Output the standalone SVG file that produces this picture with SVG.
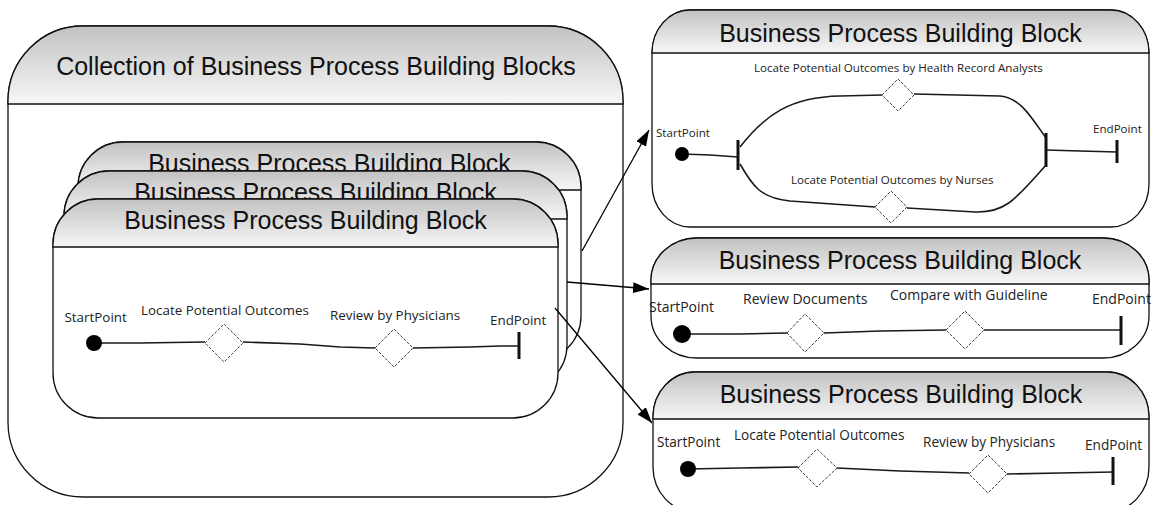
<svg xmlns="http://www.w3.org/2000/svg" width="1151" height="505" viewBox="0 0 1151 505">
<defs>
<linearGradient id="hg" x1="0" y1="0" x2="0" y2="1">
<stop offset="0" stop-color="#c2c2c2"/>
<stop offset="1" stop-color="#f7f7f7"/>
</linearGradient>
<marker id="ah" markerUnits="userSpaceOnUse" markerWidth="17" markerHeight="11" refX="16" refY="5.5" orient="auto">
<path d="M0,0 L16,5.5 L0,11 Z" fill="#000"/>
</marker>
<style>
.title{font-family:"Liberation Sans",Arial,sans-serif;font-size:25px;fill:#111;text-anchor:middle}
.lbl{font-family:"Open Sans","Noto Sans",sans-serif;fill:#222}
.box{fill:#fff;stroke:#111;stroke-width:1.3}
.hdr{fill:url(#hg);stroke:#111;stroke-width:1.3}
.flow{fill:none;stroke:#1a1a1a;stroke-width:1.6}
.bar{stroke:#111;stroke-width:3}
.dia{fill:#fff;stroke:#444;stroke-width:1;stroke-dasharray:3 1.5}
.dot{fill:#000}
.conn{fill:none;stroke:#000;stroke-width:1.3;marker-end:url(#ah)}
</style>
</defs>

<g id="collection">
<rect class="box" x="8" y="26" width="615" height="471" rx="75" ry="75"/>
<path class="hdr" d="M8,104 V101 A75,75 0 0 1 83,26 H548 A75,75 0 0 1 623,101 V104 Z"/>
<text class="title" x="316" y="75">Collection of Business Process Building Blocks</text>
</g>

<g id="bpbb-back">
<rect class="box" x="78" y="142" width="503" height="219" rx="45" ry="45"/>
<path class="hdr" d="M78,190 V187 A45,45 0 0 1 123,142 H536 A45,45 0 0 1 581,187 V190 Z"/>
<text class="title" x="329.5" y="172">Business Process Building Block</text>
</g>

<g id="bpbb-middle">
<rect class="box" x="64" y="171" width="503" height="219" rx="45" ry="45"/>
<path class="hdr" d="M64,219 V216 A45,45 0 0 1 109,171 H522 A45,45 0 0 1 567,216 V219 Z"/>
<text class="title" x="315.5" y="201">Business Process Building Block</text>
</g>

<g id="bpbb-front">
<rect class="box" x="53" y="199" width="505" height="219" rx="45" ry="45"/>
<path class="hdr" d="M53,247 V244 A45,45 0 0 1 98,199 H513 A45,45 0 0 1 558,244 V247 Z"/>
<text class="title" x="305.5" y="229">Business Process Building Block</text>
<text class="lbl" x="64.5" y="322" font-size="13.4">StartPoint</text>
<text class="lbl" x="141" y="315" font-size="13.4">Locate Potential Outcomes</text>
<text class="lbl" x="330" y="320" font-size="13.4">Review by Physicians</text>
<text class="lbl" x="490" y="325" font-size="13.4">EndPoint</text>
<path class="flow" d="M94,343 L140,343 L205,342"/>
<path class="flow" d="M243,342 L300,344 L340,347 L375,348"/>
<path class="flow" d="M413,348 L470,347 L500,346 L519,346"/>
<circle class="dot" cx="94" cy="343" r="8"/>
<polygon class="dia" points="205,343 224,324 243,343 224,362"/>
<polygon class="dia" points="375,348 394,329 413,348 394,367"/>
<line class="bar" x1="519" y1="332" x2="519" y2="359"/>
</g>

<g id="bpbb-parallel">
<rect class="box" x="652" y="10" width="497" height="217" rx="38" ry="43"/>
<path class="hdr" d="M652,53 A38,43 0 0 1 690,10 H1111 A38,43 0 0 1 1149,53 Z"/>
<text class="title" x="900.5" y="42">Business Process Building Block</text>
<text class="lbl" x="754" y="72" font-size="11.6">Locate Potential Outcomes by Health Record Analysts</text>
<text class="lbl" x="791" y="184" font-size="11.6">Locate Potential Outcomes by Nurses</text>
<text class="lbl" x="656" y="137" font-size="11.6">StartPoint</text>
<text class="lbl" x="1093" y="133" font-size="11.6">EndPoint</text>
<path class="flow" d="M682,154 L710,155 L738,157"/>
<path class="flow" d="M740,147 C765,115 790,97 840,96 L882,95"/>
<path class="flow" d="M914,94 L1000,96 C1020,98 1030,115 1046,138"/>
<path class="flow" d="M740,164 C752,185 760,198 790,201 L875,207"/>
<path class="flow" d="M907,208 L975,212 C1005,213 1015,200 1046,165"/>
<path class="flow" d="M1046,150 L1080,151 L1117,152"/>
<circle class="dot" cx="682" cy="154" r="7"/>
<line class="bar" x1="738" y1="140" x2="738" y2="170"/>
<line class="bar" x1="1046" y1="133" x2="1046" y2="167"/>
<line class="bar" x1="1117" y1="140" x2="1117" y2="163"/>
<polygon class="dia" points="882,95 898,79 914,95 898,111"/>
<polygon class="dia" points="875,207 891,191 907,207 891,223"/>
</g>

<g id="bpbb-documents">
<rect class="box" x="651" y="238" width="498" height="120" rx="46" ry="42"/>
<path class="hdr" d="M651,284 V280 A46,42 0 0 1 697,238 H1103 A46,42 0 0 1 1149,280 V284 Z"/>
<text class="title" x="900" y="269">Business Process Building Block</text>
<text class="lbl" x="649" y="312" font-size="14">StartPoint</text>
<text class="lbl" x="743" y="304" font-size="14">Review Documents</text>
<text class="lbl" x="890" y="300" font-size="14">Compare with Guideline</text>
<text class="lbl" x="1092" y="304" font-size="14">EndPoint</text>
<path class="flow" d="M682,334 L740,334 L787,333"/>
<path class="flow" d="M824,333 L880,331 L946,330"/>
<path class="flow" d="M984,330 L1121,330"/>
<circle class="dot" cx="682" cy="334" r="9"/>
<polygon class="dia" points="787,333 805,314 824,333 805,352"/>
<polygon class="dia" points="946,330 965,311 984,330 965,349"/>
<line class="bar" x1="1121" y1="316" x2="1121" y2="345"/>
</g>

<g id="bpbb-physicians">
<rect class="box" x="653" y="372" width="496" height="140" rx="42" ry="45"/>
<path class="hdr" d="M653,419 V417 A42,45 0 0 1 695,372 H1107 A42,45 0 0 1 1149,417 V419 Z"/>
<text class="title" x="901" y="403">Business Process Building Block</text>
<text class="lbl" x="657" y="447" font-size="13.6">StartPoint</text>
<text class="lbl" x="734" y="440" font-size="13.6">Locate Potential Outcomes</text>
<text class="lbl" x="923" y="447" font-size="13.6">Review by Physicians</text>
<text class="lbl" x="1085" y="450" font-size="13.6">EndPoint</text>
<path class="flow" d="M688,469 L740,468 L798,467"/>
<path class="flow" d="M837,468 L900,471 L969,473"/>
<path class="flow" d="M1007,474 L1060,473 L1113,472"/>
<circle class="dot" cx="688" cy="469" r="8"/>
<polygon class="dia" points="798,468 817,449 837,468 817,487"/>
<polygon class="dia" points="969,474 988,455 1007,474 988,493"/>
<line class="bar" x1="1113" y1="457" x2="1113" y2="485"/>
</g>

<g id="connectors">
<line class="conn" x1="582" y1="251" x2="649" y2="130"/>
<line class="conn" x1="567" y1="282" x2="649" y2="289"/>
<line class="conn" x1="555" y1="308" x2="652" y2="423"/>
</g>
</svg>
